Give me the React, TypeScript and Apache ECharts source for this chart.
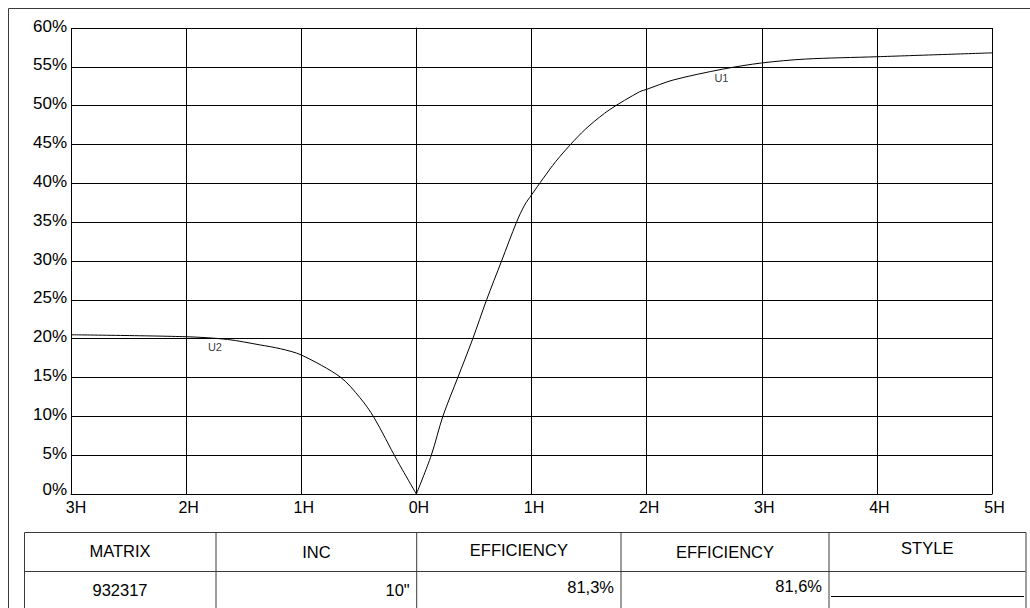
import React, { useEffect, useRef } from "react";
import * as echarts from "echarts";

// x in hours (negative = left side, labelled by absolute value), y in %
const u1Data: [number, number][] = [
  [0, 0], [0.13, 5], [0.23, 10], [0.36, 15], [0.49, 20], [0.61, 25], [0.74, 30],
  [0.87, 35], [0.94, 37.2], [1.0, 38.5], [1.1, 40.6], [1.21, 42.8], [1.37, 45.5],
  [1.5, 47.4], [1.68, 49.5], [1.94, 51.8], [2.0, 52.1], [2.23, 53.3], [2.66, 54.7],
  [3.0, 55.5], [3.38, 56.0], [4.0, 56.3], [5.0, 56.8],
];
const u2Data: [number, number][] = [
  [-3, 20.5], [-2, 20.25], [-1.64, 19.9], [-1.36, 19.2], [-1.18, 18.7], [-1, 17.9],
  [-0.66, 15.05], [-0.49, 12.4], [-0.37, 9.9], [-0.17, 4.4], [0, 0],
];
const curveLabels: { name: string; value: [number, number] }[] = [
  { name: "U1", value: [2.65, 53.6] },
  { name: "U2", value: [-1.75, 18.95] },
];

const tableHeaders = ["MATRIX", "INC", "EFFICIENCY", "EFFICIENCY", "STYLE"];
const tableRow = ["932317", "10\"", "81,3%", "81,6%", ""];

const FONT = "'Liberation Sans', Arial, Helvetica, sans-serif";

export default function App() {
  const ref = useRef<HTMLDivElement>(null);
  useEffect(() => {
    if (!ref.current) return;
    const chart = echarts.init(ref.current, undefined, { renderer: "svg" });

    const colX = [24, 216, 416.7, 621, 829, 1025.5];
    const tTop = 532.5;
    const tMid = 571.5;
    const tBot = 612;
    const lineCol = "#3a3a3a";
    const headerY = [551, 552, 550, 552, 548];
    const rowY = [590, 590, 587, 586, 590];

    const graphics: any[] = [
      { type: "line", shape: { x1: 8.5, y1: 8.5, x2: 1030, y2: 8.5 }, style: { stroke: lineCol, lineWidth: 1 } },
      { type: "line", shape: { x1: 8.5, y1: 8.5, x2: 8.5, y2: 608 }, style: { stroke: lineCol, lineWidth: 1 } },
      { type: "rect", shape: { x: colX[0] + 0.5, y: tTop, width: colX[5] - colX[0], height: tBot - tTop }, style: { fill: "none", stroke: lineCol, lineWidth: 1 } },
      { type: "line", shape: { x1: colX[0], y1: tMid, x2: colX[5], y2: tMid }, style: { stroke: lineCol, lineWidth: 1 } },
    ];
    for (let i = 1; i < 5; i++) {
      graphics.push({ type: "line", shape: { x1: colX[i], y1: tTop, x2: colX[i], y2: tBot }, style: { stroke: lineCol, lineWidth: 1 } });
    }
    tableHeaders.forEach((h, i) => {
      graphics.push({
        type: "text",
        x: (colX[i] + colX[i + 1]) / 2,
        y: headerY[i],
        style: { text: h, fill: "#000", font: `16.5px ${FONT}`, align: "center", verticalAlign: "middle" },
      });
    });
    tableRow.forEach((t, i) => {
      if (!t) return;
      const centered = i === 0;
      graphics.push({
        type: "text",
        x: centered ? (colX[i] + colX[i + 1]) / 2 : colX[i + 1] - 7,
        y: rowY[i],
        style: { text: t, fill: "#000", font: `16.5px ${FONT}`, align: centered ? "center" : "right", verticalAlign: "middle" },
      });
    });
    graphics.push({ type: "line", shape: { x1: 831, y1: 596.5, x2: 1024, y2: 596.5 }, style: { stroke: "#000", lineWidth: 1 } });

    chart.setOption({
      animation: false,
      backgroundColor: "#fff",
      grid: { left: 71, top: 28, width: 921, height: 466, containLabel: false },
      xAxis: {
        type: "value",
        min: -3,
        max: 5,
        interval: 1,
        axisLine: { show: true, onZero: false, lineStyle: { color: "#000", width: 1 } },
        axisTick: { show: false },
        splitLine: { show: true, lineStyle: { color: "#000", width: 1 } },
        axisLabel: {
          margin: 5,
          color: "#000",
          fontFamily: FONT,
          fontSize: 16,
          formatter: (v: number) => (v === -3 ? "{l|3H}" : `{n|${Math.abs(v)}H}`),
          rich: {
            l: { fontFamily: FONT, fontSize: 16, color: "#000", padding: [0, 0, 0, 10] },
            n: { fontFamily: FONT, fontSize: 16, color: "#000", padding: [0, 0, 0, 5] },
          },
        },
      },
      yAxis: {
        type: "value",
        min: 0,
        max: 60,
        interval: 5,
        axisLine: { show: true, lineStyle: { color: "#000", width: 1 } },
        axisTick: { show: false },
        splitLine: { show: true, lineStyle: { color: "#000", width: 1 } },
        axisLabel: {
          margin: 4,
          color: "#000",
          fontFamily: FONT,
          fontSize: 17,
          formatter: (v: number) => (v === 0 ? `{z|${v}%}` : `{n|${v}%}`),
          rich: {
            z: { fontFamily: FONT, fontSize: 17, color: "#000", padding: [0, 0, 10, 0] },
            n: { fontFamily: FONT, fontSize: 17, color: "#000", padding: [0, 0, 4, 0] },
          },
        },
      },
      series: [
        {
          name: "U1",
          type: "line",
          data: u1Data,
          smooth: 0.3,
          showSymbol: false,
          lineStyle: { color: "#000", width: 1 },
          z: 5,
        },
        {
          name: "U2",
          type: "line",
          data: u2Data,
          smooth: 0.3,
          showSymbol: false,
          lineStyle: { color: "#000", width: 1 },
          z: 5,
        },
        {
          type: "scatter",
          data: curveLabels,
          symbolSize: 0,
          silent: true,
          label: {
            show: true,
            position: "inside",
            formatter: (p: any) => p.name,
            color: "#000",
            fontFamily: FONT,
            fontSize: 11,
          },
          z: 6,
        },
      ],
      graphic: graphics,
    });
    return () => chart.dispose();
  }, []);
  return (
    <div
      ref={ref}
      style={{ position: "absolute", left: 0, top: 0, width: 1030, height: 608, background: "#fff" }}
    />
  );
}
